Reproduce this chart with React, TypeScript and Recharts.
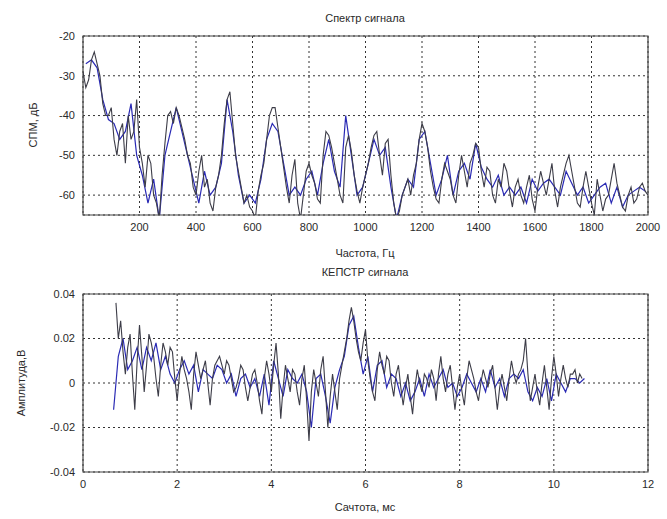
import { CartesianGrid, Line, LineChart, ReferenceArea, XAxis, YAxis } from 'recharts';

// Спектр: серая линия с шагом 10 Гц (от 0), синяя с шагом 20 Гц со сдвигом 10 Гц
const specGrayStep = 10;
const specBlueStep = 20;
const specGray = [
  -29, -33, -31, -26, -24, -27, -30, -37, -40, -40,
  -38, -46, -50, -44, -42, -52, -40, -46, -44, -36,
  -48, -52, -58, -50, -52, -60, -62, -66, -55, -47,
  -40, -39, -42, -38, -40, -43, -46, -50, -52, -58,
  -60, -54, -50, -58, -56, -62, -64, -58, -55, -50,
  -42, -36, -34, -42, -50, -54, -58, -62, -60, -63,
  -64, -66, -59, -55, -52, -46, -40, -38, -38, -43,
  -48, -53, -58, -62, -55, -51, -62, -66, -60, -54,
  -52, -55, -57, -61, -62, -50, -44, -45, -48, -52,
  -56, -60, -62, -48, -45, -49, -55, -59, -62, -58,
  -55, -52, -48, -45, -44, -50, -55, -47, -46, -55,
  -62, -66, -64, -60, -58, -56, -60, -55, -52, -46,
  -42, -44, -48, -54, -58, -61, -62, -56, -52, -54,
  -56, -60, -62, -55, -50, -54, -58, -52, -50, -47,
  -48, -54, -58, -53, -54, -60, -62, -56, -58, -52,
  -54, -59, -63, -58, -56, -60, -62, -58, -55, -61,
  -64, -58, -54, -57, -60, -56, -52, -59, -63, -58,
  -55, -52, -50, -54, -58, -62, -63, -58, -54, -58,
  -62, -65, -56, -60, -64, -61, -60, -56, -52, -57,
  -60, -63, -64, -60, -58, -62, -61, -58, -57, -59,
  -60,
];
const specBlue = [
  -27, -26, -28, -36, -41, -42, -46, -44, -37, -50,
  -55, -62, -56, -66, -50, -44, -38, -44, -50, -56,
  -62, -54, -60, -58, -52, -36, -44, -55, -62, -60,
  -62, -56, -46, -42, -44, -52, -60, -58, -60, -56,
  -54, -60, -52, -46, -54, -58, -40, -50, -60, -58,
  -52, -46, -50, -48, -58, -66, -60, -56, -58, -46,
  -44, -52, -60, -56, -50, -60, -54, -52, -56, -47,
  -53, -56, -58, -55, -60, -58, -60, -58, -62, -56,
  -59, -57, -56, -58, -60, -54, -57, -60, -58, -62,
  -60, -58, -57, -62, -58, -63, -60, -59, -58, -59,
];
const specXTicks = [200, 400, 600, 800, 1000, 1200, 1400, 1600, 1800, 2000];
const specYTicks = [-60, -50, -40, -30, -20];

// Кепстр: серая линия с 0.7 мс шагом 0.05, синяя с 0.65 мс шагом 0.1
const cepGrayStep = 0.05;
const cepBlueStep = 0.1;
const cepGrayStart = 0.7;
const cepBlueStart = 0.65;
const cepGray = [
  0.036, 0.02, 0.028, 0.014, 0.004, 0.016, 0.022, 0.004, -0.012, 0.01,
  0.026, 0.012, -0.004, 0.008, 0.022, 0.018, 0.012, 0.002, -0.006, 0.008,
  0.018, 0.014, 0.008, 0.016, 0.014, 0.002, -0.008, 0.004, 0.012, 0.006,
  0.002, -0.004, -0.012, 0.004, 0.014, 0.008, 0.002, 0.006, 0.01, 0.0,
  -0.01, 0.002, 0.008, 0.01, 0.012, 0.008, 0.004, 0.01, 0.008, 0.002,
  -0.004, -0.002, 0.002, 0.008, 0.006, -0.002, -0.008, -0.002, 0.004, 0.006,
  0.0, -0.008, -0.014, 0.002, 0.01, 0.004, -0.004, 0.008, 0.018, 0.004,
  -0.016, -0.002, 0.008, 0.002, -0.004, 0.006, 0.004, -0.004, -0.01, 0.002,
  0.008, -0.008, -0.026, -0.004, 0.006, 0.0, -0.006, 0.006, 0.012, -0.004,
  -0.02, -0.006, 0.004, -0.004, -0.012, 0.002, 0.008, 0.014, 0.02, 0.028,
  0.034, 0.028, 0.02, 0.014, 0.01, 0.018, 0.024, 0.01, 0.002, -0.004,
  -0.008, 0.006, 0.014, 0.008, 0.004, 0.012, 0.01, 0.0, -0.006, 0.004,
  0.008, -0.002, -0.01, -0.002, 0.004, -0.006, -0.014, -0.002, 0.006, 0.0,
  -0.004, 0.004, 0.002, -0.002, 0.006, 0.002, -0.008, 0.004, 0.012, 0.002,
  -0.004, 0.004, 0.008, -0.002, -0.012, -0.002, 0.004, -0.004, -0.01, 0.002,
  0.01, 0.006, 0.002, -0.004, -0.008, 0.0, 0.006, 0.002, -0.002, 0.004,
  0.008, -0.002, -0.012, -0.002, 0.004, -0.002, -0.008, 0.002, 0.01, 0.004,
  0.0, 0.004, 0.006, 0.01, 0.02, 0.004, -0.008, -0.002, 0.004, -0.004,
  -0.01, 0.0, 0.008, -0.002, -0.012, 0.002, 0.012, 0.004, -0.006, 0.002,
  0.008, 0.002, -0.002, 0.004, 0.004, 0.006, 0.0, 0.004, 0.002,
];
const cepBlue = [
  -0.012, 0.012, 0.02, 0.006, 0.01, 0.016, 0.006, 0.016, 0.01, 0.018,
  0.006, 0.012, 0.004, 0.0, 0.006, 0.01, 0.004, 0.008, -0.004, 0.006,
  0.004, 0.002, 0.008, 0.006, 0.0, 0.004, -0.006, 0.002, 0.004, -0.002,
  0.002, -0.006, 0.004, -0.01, 0.01, 0.002, -0.006, 0.006, 0.002, 0.0,
  0.004, -0.004, -0.02, 0.002, 0.004, -0.006, -0.018, -0.002, 0.006, 0.012,
  0.026, 0.03, 0.016, 0.004, 0.012, -0.004, 0.008, 0.01, -0.002, 0.004,
  0.002, -0.006, 0.0, -0.008, -0.004, 0.002, -0.006, 0.004, -0.002, 0.002,
  0.006, -0.002, 0.0, -0.006, -0.002, 0.004, 0.0, -0.004, 0.002, -0.004,
  0.006, -0.002, 0.002, -0.006, 0.002, 0.004, 0.002, 0.006, -0.004, -0.008,
  -0.002, -0.006, 0.002, -0.008, 0.004, 0.0, -0.004, 0.002, 0.002, 0.0,
  0.002,
];
const cepXTicks = [0, 2, 4, 6, 8, 10, 12];
const cepYTicks = [-0.04, -0.02, 0, 0.02, 0.04];

const toPoints = (vals: number[], start: number, step: number) =>
  vals.map((y, i) => ({ x: +(start + i * step).toFixed(3), y }));

const font = '"Liberation Sans", Arial, sans-serif';
const ink = '#2a2a2a';
const grayLine = '#3d3d48';
const blueLine = '#2a2ab4';
const tick = { fill: ink, fontSize: 11, fontFamily: font };

const text = (s: string, x: number, y: number, rotate = false) => (
  <div
    style={{
      position: 'absolute',
      left: x,
      top: y,
      transform: `translate(-50%, -50%)${rotate ? ' rotate(-90deg)' : ''}`,
      fontFamily: font,
      fontSize: 11,
      color: ink,
      whiteSpace: 'nowrap',
    }}
  >
    {s}
  </div>
);

export default function App() {
  const specG = toPoints(specGray, 0, specGrayStep);
  const specB = toPoints(specBlue, 10, specBlueStep);
  const cepG = toPoints(cepGray, cepGrayStart, cepGrayStep);
  const cepB = toPoints(cepBlue, cepBlueStart, cepBlueStep);

  return (
    <div style={{ position: 'absolute', left: 0, top: 0, width: 667, height: 519, background: '#fff' }}>
      <div style={{ position: 'absolute', left: 0, top: 0 }}>
        <LineChart width={667} height={260} margin={{ top: 36, right: 19, left: 43, bottom: 20 }}>
          <CartesianGrid stroke="#333" strokeDasharray="2 3" />
          <XAxis
            type="number"
            dataKey="x"
            domain={[0, 2000]}
            ticks={specXTicks}
            allowDataOverflow
            axisLine={false}
            tickLine={false}
            tick={tick}
            height={25}
          />
          <YAxis
            type="number"
            domain={[-65, -20]}
            ticks={specYTicks}
            allowDataOverflow
            axisLine={false}
            tickLine={false}
            tick={tick}
            width={40}
          />
          <Line data={specB} dataKey="y" stroke={blueLine} strokeWidth={1.2} dot={false} isAnimationActive={false} />
          <Line data={specG} dataKey="y" stroke={grayLine} strokeWidth={1.1} dot={false} isAnimationActive={false} />
          <ReferenceArea x1={0} x2={2000} y1={-65} y2={-20} fill="none" stroke="#444" strokeWidth={1.2} />
        </LineChart>
      </div>
      <div style={{ position: 'absolute', left: 0, top: 258 }}>
        <LineChart width={667} height={261} margin={{ top: 36, right: 19, left: 43, bottom: 22 }}>
          <CartesianGrid stroke="#333" strokeDasharray="2 3" />
          <XAxis
            type="number"
            dataKey="x"
            domain={[0, 12]}
            ticks={cepXTicks}
            allowDataOverflow
            axisLine={false}
            tickLine={false}
            tick={tick}
            height={25}
          />
          <YAxis
            type="number"
            domain={[-0.04, 0.04]}
            ticks={cepYTicks}
            allowDataOverflow
            axisLine={false}
            tickLine={false}
            tick={tick}
            width={40}
          />
          <Line data={cepB} dataKey="y" stroke={blueLine} strokeWidth={1.2} dot={false} isAnimationActive={false} />
          <Line data={cepG} dataKey="y" stroke={grayLine} strokeWidth={1.1} dot={false} isAnimationActive={false} />
          <ReferenceArea x1={0} x2={12} y1={-0.04} y2={0.04} fill="none" stroke="#444" strokeWidth={1.2} />
        </LineChart>
      </div>
      {text('Спектр сигнала', 365, 18)}
      {text('Частота,  Гц', 365, 253)}
      {text('СПМ, дБ', 33, 125, true)}
      {text('КЕПСТР сигнала', 365, 272)}
      {text('Сачтота,  мс', 365, 507)}
      {text('Амплитуда,В', 21, 383, true)}
    </div>
  );
}
